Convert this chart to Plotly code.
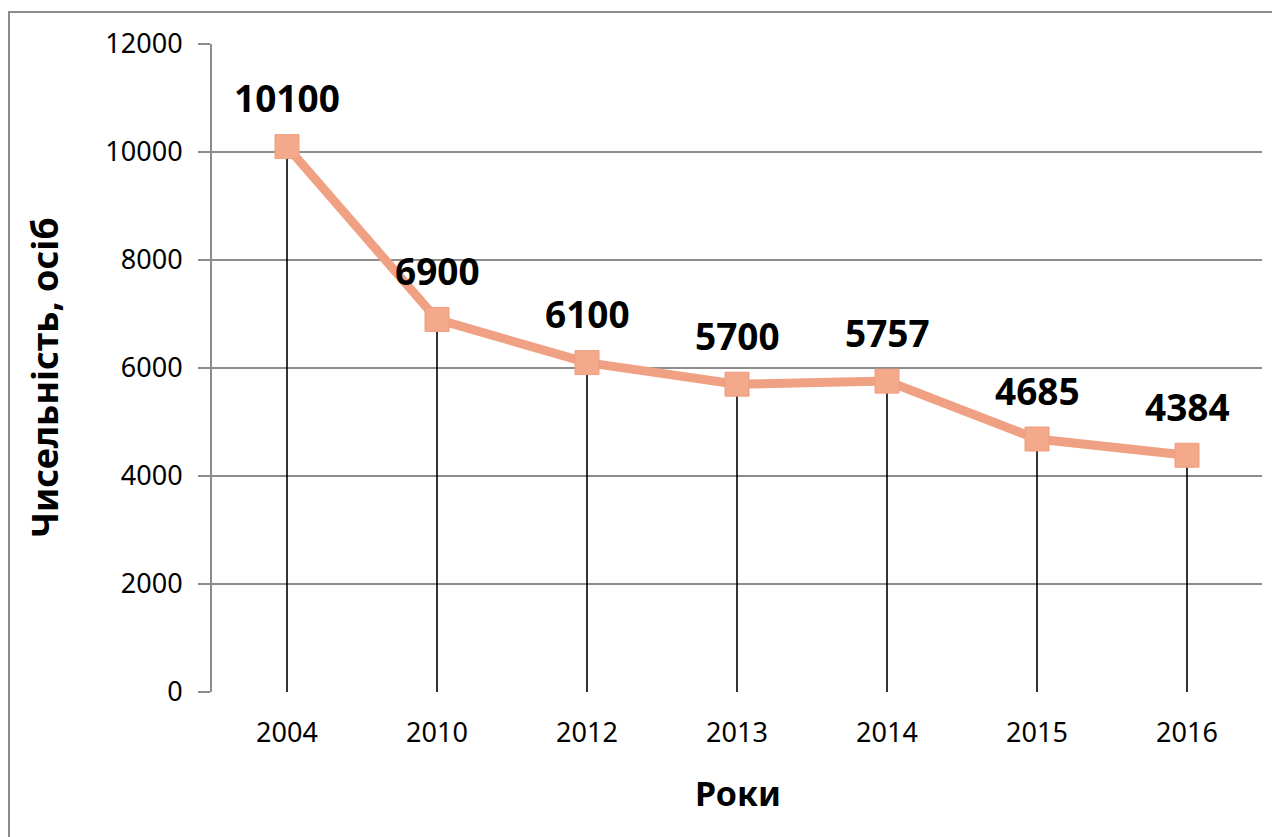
import plotly.graph_objects as go

years = ["2004", "2010", "2012", "2013", "2014", "2015", "2016"]
values = [10100, 6900, 6100, 5700, 5757, 4685, 4384]
y_ticks = [0, 2000, 4000, 6000, 8000, 10000, 12000]

FONT = "Noto Sans"
OFF = 8  # page body margin
W, H = 1280 - OFF, 837 - OFF
# target pixel positions on the page
AX_L, AX_R, AX_T, AX_B = 212, 1262, 44, 692
ML, MR, MT, MB = AX_L - OFF, 1280 - AX_R, AX_T - OFF, 837 - AX_B
PW, PH = AX_R - AX_L, AX_B - AX_T

def px_x(p):
    return (p - AX_L) / PW

def px_y(p):
    return (AX_B - p) / PH

fig = go.Figure()

# drop lines from each point down to the axis
fig.add_trace(go.Scatter(
    x=years, y=values, mode="markers",
    marker=dict(size=1, color="rgba(0,0,0,0)"),
    error_y=dict(type="data", symmetric=False, array=[0] * len(values),
                 arrayminus=values, color="black", thickness=1.6, width=0),
    hoverinfo="skip", showlegend=False,
))

# main line
fig.add_trace(go.Scatter(
    x=years, y=values, mode="lines+markers",
    line=dict(color="#F1A183", width=9),
    marker=dict(symbol="square", size=24, color="#F4A98B",
                line=dict(color="#EE9D80", width=1)),
    showlegend=False,
))

annotations = []
for i, v in enumerate(values):
    annotations.append(dict(
        x=i, y=v, xref="x", yref="y", text=f"<b>{v}</b>", showarrow=False,
        yshift=49, font=dict(family=FONT, size=37, color="black"),
        xanchor="center", yanchor="middle",
    ))

annotations.append(dict(
    x=px_x(44), y=px_y(378), xref="paper", yref="paper",
    text="<b>Чисельність, осіб</b>", textangle=-90, showarrow=False,
    font=dict(family=FONT, size=36, color="black"),
    xanchor="center", yanchor="middle",
))
annotations.append(dict(
    x=px_x(738), y=px_y(793), xref="paper", yref="paper",
    text="<b>Роки</b>", showarrow=False,
    font=dict(family=FONT, size=34, color="black"),
    xanchor="center", yanchor="middle",
))

fig.update_layout(
    width=W, height=H,
    margin=dict(l=ML, r=MR, t=MT, b=MB, pad=0),
    paper_bgcolor="white", plot_bgcolor="white",
    annotations=annotations,
    shapes=[dict(type="rect", xref="paper", yref="paper",
                 x0=px_x(9), x1=px_x(1320), y0=px_y(880), y1=px_y(12),
                 line=dict(color="#8C8C8C", width=2), fillcolor="rgba(0,0,0,0)",
                 layer="below")],
    xaxis=dict(
        type="category", categoryorder="array", categoryarray=years,
        range=[-0.5, len(years) - 0.5], autorange=False,
        showgrid=False, showline=False, zeroline=False, ticks="",
        tickfont=dict(family=FONT, size=27, color="black"),
        ticklabelstandoff=22, fixedrange=True,
    ),
    yaxis=dict(
        range=[0, 12000], autorange=False,
        tickvals=y_ticks, ticktext=[str(t) for t in y_ticks],
        showgrid=True, gridcolor="#8C8C8C", gridwidth=2,
        showline=True, linecolor="#8C8C8C", linewidth=2,
        ticks="outside", ticklen=12, tickcolor="#8C8C8C", tickwidth=2,
        zeroline=False,
        tickfont=dict(family=FONT, size=27, color="black"),
        ticklabelstandoff=10, fixedrange=True,
    ),
)

fig.write_html("out.html")
